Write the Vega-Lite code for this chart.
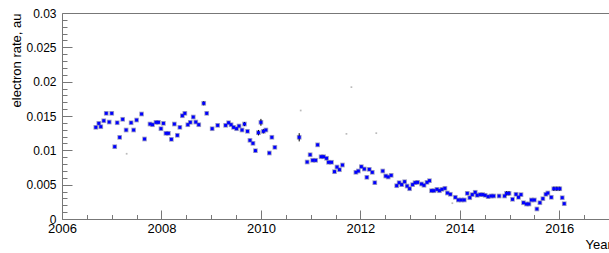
{
  "$schema": "https://vega.github.io/schema/vega-lite/v6.json",
  "autosize": {"type": "none"},
  "padding": {"left": 62, "top": 13, "right": 0, "bottom": 34},
  "width": 547,
  "height": 206,
  "background": "white",
  "config": {
    "view": {"stroke": null},
    "axis": {"grid": false, "labelFont": "Liberation Sans", "titleFont": "Liberation Sans", "labelColor": "black", "titleColor": "black", "domainColor": "#777", "tickColor": "#777", "titleFontWeight": "normal"}
  },
  "datasets": {
    "pts": [
      {"t":2006.68,"v":0.01335,"e":0.00015},{"t":2006.74,"v":0.01393,"e":0.00015},{"t":2006.78,"v":0.01344,"e":0.00015},
      {"t":2006.84,"v":0.01431,"e":0.00015},{"t":2006.89,"v":0.01539,"e":0.00015},{"t":2006.95,"v":0.01412,"e":0.00015},
      {"t":2007.00,"v":0.01539,"e":0.00015},{"t":2007.06,"v":0.01053,"e":0.00015},{"t":2007.11,"v":0.01402,"e":0.00015},
      {"t":2007.16,"v":0.01189,"e":0.00015},{"t":2007.22,"v":0.01452,"e":0.00015},{"t":2007.29,"v":0.01296,"e":0.00015},
      {"t":2007.39,"v":0.01402,"e":0.00015},{"t":2007.44,"v":0.01296,"e":0.00015},{"t":2007.50,"v":0.01441,"e":0.00015},
      {"t":2007.60,"v":0.01529,"e":0.00015},{"t":2007.66,"v":0.01165,"e":0.00015},{"t":2007.77,"v":0.01383,"e":0.00015},
      {"t":2007.82,"v":0.01373,"e":0.00015},{"t":2007.89,"v":0.01408,"e":0.00015},{"t":2007.94,"v":0.01408,"e":0.00015},
      {"t":2007.99,"v":0.01315,"e":0.00015},{"t":2008.04,"v":0.01393,"e":0.00015},{"t":2008.09,"v":0.01248,"e":0.00015},
      {"t":2008.14,"v":0.01248,"e":0.00015},{"t":2008.20,"v":0.0116,"e":0.00015},{"t":2008.26,"v":0.01383,"e":0.00015},
      {"t":2008.32,"v":0.01219,"e":0.00015},{"t":2008.37,"v":0.01335,"e":0.00015},{"t":2008.42,"v":0.01504,"e":0.00015},
      {"t":2008.47,"v":0.01539,"e":0.00015},{"t":2008.53,"v":0.01373,"e":0.00015},{"t":2008.58,"v":0.01408,"e":0.00015},
      {"t":2008.64,"v":0.01485,"e":0.00015},{"t":2008.69,"v":0.01412,"e":0.00015},{"t":2008.75,"v":0.01373,"e":0.00015},
      {"t":2008.85,"v":0.01685,"e":0.0003},{"t":2008.91,"v":0.01539,"e":0.0002},{"t":2009.02,"v":0.01315,"e":0.00015},
      {"t":2009.13,"v":0.01364,"e":0.00015},{"t":2009.29,"v":0.01364,"e":0.00015},{"t":2009.35,"v":0.01402,"e":0.00015},
      {"t":2009.40,"v":0.01373,"e":0.00015},{"t":2009.45,"v":0.01335,"e":0.00015},{"t":2009.51,"v":0.01315,"e":0.00015},
      {"t":2009.56,"v":0.01354,"e":0.00015},{"t":2009.62,"v":0.01296,"e":0.00015},{"t":2009.67,"v":0.01383,"e":0.0003},
      {"t":2009.73,"v":0.01277,"e":0.00015},{"t":2009.78,"v":0.01146,"e":0.00015},{"t":2009.84,"v":0.01102,"e":0.00015},
      {"t":2009.89,"v":0.00995,"e":0.0002},{"t":2009.95,"v":0.01257,"e":0.0004},{"t":2010.00,"v":0.01408,"e":0.0005},
      {"t":2010.05,"v":0.01277,"e":0.0003},{"t":2010.10,"v":0.01296,"e":0.00015},{"t":2010.17,"v":0.00961,"e":0.00015},
      {"t":2010.22,"v":0.0119,"e":0.00015},{"t":2010.28,"v":0.01044,"e":0.00015},{"t":2010.77,"v":0.0119,"e":0.0006},
      {"t":2010.93,"v":0.0083,"e":0.00015},{"t":2010.99,"v":0.00936,"e":0.00015},{"t":2011.04,"v":0.00855,"e":0.00015},
      {"t":2011.10,"v":0.00855,"e":0.00015},{"t":2011.14,"v":0.0108,"e":0.00015},{"t":2011.21,"v":0.00907,"e":0.00015},
      {"t":2011.26,"v":0.00907,"e":0.00015},{"t":2011.32,"v":0.00884,"e":0.00015},{"t":2011.36,"v":0.00826,"e":0.00015},
      {"t":2011.42,"v":0.00826,"e":0.00015},{"t":2011.48,"v":0.00689,"e":0.00015},{"t":2011.53,"v":0.00757,"e":0.00015},
      {"t":2011.58,"v":0.00718,"e":0.00015},{"t":2011.64,"v":0.00786,"e":0.00015},{"t":2011.91,"v":0.0068,"e":0.00015},
      {"t":2011.96,"v":0.00699,"e":0.00015},{"t":2012.02,"v":0.00762,"e":0.00015},{"t":2012.08,"v":0.00728,"e":0.00015},
      {"t":2012.13,"v":0.00607,"e":0.00015},{"t":2012.18,"v":0.00723,"e":0.00015},{"t":2012.24,"v":0.0068,"e":0.00015},
      {"t":2012.29,"v":0.00529,"e":0.00015},{"t":2012.45,"v":0.00699,"e":0.00015},{"t":2012.51,"v":0.00626,"e":0.00015},
      {"t":2012.56,"v":0.00612,"e":0.00015},{"t":2012.62,"v":0.00636,"e":0.00015},{"t":2012.73,"v":0.00485,"e":0.00015},
      {"t":2012.78,"v":0.00529,"e":0.00015},{"t":2012.83,"v":0.005,"e":0.00015},{"t":2012.89,"v":0.00543,"e":0.00015},
      {"t":2012.94,"v":0.0048,"e":0.00015},{"t":2012.99,"v":0.00441,"e":0.00015},{"t":2013.05,"v":0.005,"e":0.00015},
      {"t":2013.10,"v":0.00529,"e":0.00015},{"t":2013.15,"v":0.00534,"e":0.00015},{"t":2013.23,"v":0.0051,"e":0.00015},
      {"t":2013.28,"v":0.00491,"e":0.00015},{"t":2013.34,"v":0.00534,"e":0.00015},{"t":2013.39,"v":0.00558,"e":0.00015},
      {"t":2013.43,"v":0.00412,"e":0.00015},{"t":2013.48,"v":0.00412,"e":0.00015},{"t":2013.54,"v":0.00432,"e":0.00015},
      {"t":2013.59,"v":0.00412,"e":0.00015},{"t":2013.64,"v":0.00432,"e":0.00015},{"t":2013.70,"v":0.00447,"e":0.00015},
      {"t":2013.75,"v":0.00379,"e":0.00015},{"t":2013.81,"v":0.0036,"e":0.00015},{"t":2013.91,"v":0.00316,"e":0.00015},
      {"t":2013.97,"v":0.00277,"e":0.00015},{"t":2014.03,"v":0.00277,"e":0.00015},{"t":2014.09,"v":0.00277,"e":0.00015},
      {"t":2014.15,"v":0.00374,"e":0.00015},{"t":2014.20,"v":0.0031,"e":0.00015},{"t":2014.25,"v":0.00355,"e":0.00015},
      {"t":2014.31,"v":0.00389,"e":0.00015},{"t":2014.35,"v":0.00345,"e":0.00015},{"t":2014.41,"v":0.00355,"e":0.00015},
      {"t":2014.46,"v":0.00355,"e":0.00015},{"t":2014.51,"v":0.00345,"e":0.00015},{"t":2014.57,"v":0.00325,"e":0.00015},
      {"t":2014.63,"v":0.00335,"e":0.00015},{"t":2014.68,"v":0.00335,"e":0.00015},{"t":2014.79,"v":0.00335,"e":0.00015},
      {"t":2014.90,"v":0.00335,"e":0.00015},{"t":2014.94,"v":0.00374,"e":0.0003},{"t":2014.99,"v":0.00374,"e":0.0003},
      {"t":2015.06,"v":0.00287,"e":0.00015},{"t":2015.13,"v":0.0036,"e":0.00015},{"t":2015.18,"v":0.00316,"e":0.00015},
      {"t":2015.23,"v":0.00355,"e":0.00015},{"t":2015.28,"v":0.00237,"e":0.00015},{"t":2015.34,"v":0.00218,"e":0.00015},
      {"t":2015.39,"v":0.00218,"e":0.00015},{"t":2015.44,"v":0.00277,"e":0.00015},{"t":2015.50,"v":0.00277,"e":0.00015},
      {"t":2015.55,"v":0.00146,"e":0.00015},{"t":2015.61,"v":0.00237,"e":0.00015},{"t":2015.67,"v":0.00296,"e":0.00015},
      {"t":2015.73,"v":0.0036,"e":0.00015},{"t":2015.77,"v":0.00379,"e":0.00015},{"t":2015.84,"v":0.00316,"e":0.00015},
      {"t":2015.89,"v":0.00441,"e":0.0003},{"t":2015.95,"v":0.00441,"e":0.0003},{"t":2016.01,"v":0.00441,"e":0.0003},
      {"t":2016.06,"v":0.0031,"e":0.00015},{"t":2016.10,"v":0.00223,"e":0.00015}
    ],
    "faint": [
      {"t":2007.3,"v":0.0095},{"t":2010.8,"v":0.0158},{"t":2011.82,"v":0.0192},
      {"t":2011.72,"v":0.0124},{"t":2012.32,"v":0.0125},{"t":2013.85,"v":0.0023}
    ]
  },
  "resolve": {"axis": {"x": "independent", "y": "independent"}},
  "layer": [
    {
      "data": {"name": "faint"},
      "mark": {"type": "point", "shape": "square", "filled": true, "size": 3, "color": "#bbbbbb", "opacity": 1},
      "encoding": {
        "x": {"field": "t", "type": "quantitative", "scale": {"domain": [2006, 2017], "nice": false, "zero": false},
              "axis": {"orient": "top", "labels": false, "ticks": false, "domain": true, "title": null}},
        "y": {"field": "v", "type": "quantitative", "scale": {"domain": [0, 0.03], "nice": false},
              "axis": {"orient": "left", "labels": false, "domain": false, "title": null, "tickSize": -5,
                       "values": [0.001,0.002,0.003,0.004,0.006,0.007,0.008,0.009,0.011,0.012,0.013,0.014,0.016,0.017,0.018,0.019,0.021,0.022,0.023,0.024,0.026,0.027,0.028,0.029]}}
      }
    },
    {
      "data": {"name": "pts"},
      "mark": {"type": "point", "shape": "square", "filled": true, "size": 22, "color": "#7777aa", "opacity": 0.7},
      "encoding": {
        "x": {"field": "t", "type": "quantitative", "scale": {"domain": [2006, 2017], "nice": false, "zero": false},
              "axis": {"orient": "bottom", "labels": false, "domain": false, "title": null, "tickSize": -4.5,
                       "values": [2006.5,2007,2007.5,2008.5,2009,2009.5,2010.5,2011,2011.5,2012.5,2013,2013.5,2014.5,2015,2015.5,2016.5]}},
        "y": {"field": "v", "type": "quantitative", "scale": {"domain": [0, 0.03], "nice": false}, "axis": null}
      }
    },
    {
      "data": {"name": "pts"},
      "mark": {"type": "errorbar", "color": "black", "thickness": 1},
      "encoding": {
        "x": {"field": "t", "type": "quantitative", "scale": {"domain": [2006, 2017], "nice": false, "zero": false},
              "axis": {"orient": "bottom", "labels": false, "domain": false, "title": null, "tickSize": -9,
                       "values": [2006,2008,2010,2012,2014,2016]}},
        "y": {"field": "v", "type": "quantitative", "scale": {"domain": [0, 0.03], "nice": false},
              "axis": {"orient": "left", "labels": false, "domain": false, "title": null, "tickSize": -10,
                       "values": [0,0.005,0.01,0.015,0.02,0.025,0.03]}},
        "yError": {"field": "e"}
      }
    },
    {
      "data": {"name": "pts"},
      "mark": {"type": "point", "shape": "square", "filled": true, "size": 9, "color": "#0000ff", "opacity": 1},
      "encoding": {
        "x": {"field": "t", "type": "quantitative", "scale": {"domain": [2006, 2017], "nice": false, "zero": false},
              "axis": {"orient": "bottom", "ticks": false, "domain": true, "values": [2006,2008,2010,2012,2014,2016],
                       "format": "d", "labelFontSize": 13, "labelPadding": 3, "labelFlush": false,
                       "title": "Year", "titleFontSize": 13, "titleX": 523, "titleY": 29.5, "titleAlign": "left",
                       "titleBaseline": "alphabetic", "titleAnchor": null}},
        "y": {"field": "v", "type": "quantitative", "scale": {"domain": [0, 0.03], "nice": false},
              "axis": {"orient": "left", "ticks": false, "domain": true, "values": [0,0.005,0.01,0.015,0.02,0.025,0.03],
                       "format": "~g", "labelFontSize": 12, "labelPadding": 6, "labelFlush": false,
                       "title": "electron rate, au", "titleFontSize": 13, "titleX": -42, "titleY": 0,
                       "titleAngle": -90, "titleAlign": "right", "titleBaseline": "alphabetic", "titleAnchor": null}}
      }
    }
  ]
}
